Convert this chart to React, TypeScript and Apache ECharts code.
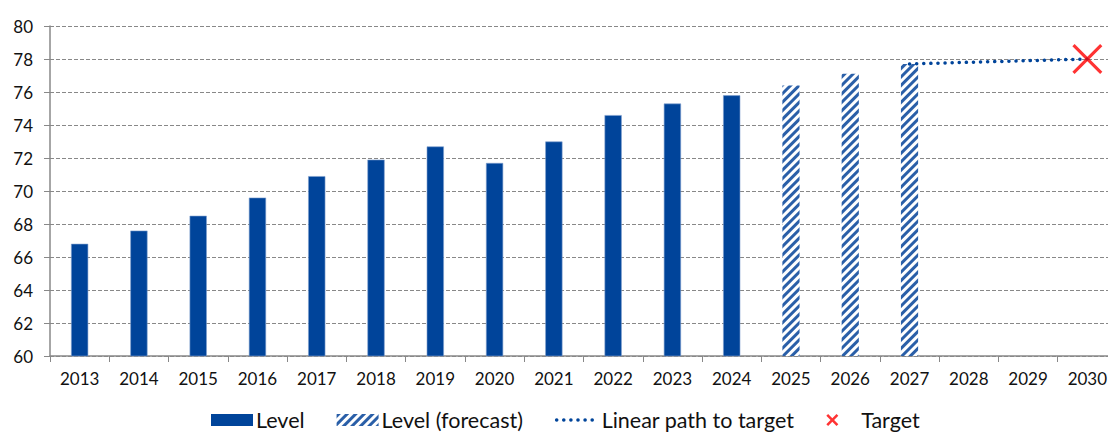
import React, { useEffect, useRef } from "react";
import * as echarts from "echarts";

const years = ["2013","2014","2015","2016","2017","2018","2019","2020","2021","2022","2023","2024","2025","2026","2027","2028","2029","2030"];
const level = [66.8, 67.6, 68.5, 69.6, 70.9, 71.9, 72.7, 71.7, 73.0, 74.6, 75.3, 75.8, null, null, null, null, null, null];
const forecast = [null, null, null, null, null, null, null, null, null, null, null, null, 76.4, 77.1, 77.7, null, null, null];
const path = [null, null, null, null, null, null, null, null, null, null, null, null, null, null, 77.7, null, null, 78.0];
const target = [null, null, null, null, null, null, null, null, null, null, null, null, null, null, null, null, null, 78.0];

const BLUE = "#00449a";
const X_PATH = "path://M1.5,0 L10,8.5 L18.5,0 L20,1.5 L11.5,10 L20,18.5 L18.5,20 L10,11.5 L1.5,20 L0,18.5 L8.5,10 L0,1.5 Z";
const X_SMALL = "path://M3,0 L10,7 L17,0 L20,3 L13,10 L20,17 L17,20 L10,13 L3,20 L0,17 L7,10 L0,3 Z";

export default function App() {
  const ref = useRef<HTMLDivElement>(null);
  useEffect(() => {
    const chart = echarts.init(ref.current!, null, { renderer: "svg" });
    const font = "Lato, 'Open Sans', sans-serif";
    chart.setOption({
      animation: false,
      textStyle: { fontFamily: font },
      grid: { left: 50, top: 26, height: 330, width: 1067, outerBoundsMode: "none", containLabel: false },
      legend: {
        top: 409,
        left: 211,
        padding: 0,
        itemGap: 32,
        itemWidth: 42,
        itemHeight: 12,
        formatter: (name: string) => (name === "Target" ? " " + name : name),
        textStyle: { fontSize: 21.5, color: "#111", fontFamily: font, padding: [0, 0, 0, -2] },
        data: [
          { name: "Level", icon: "rect", itemStyle: { borderWidth: 0 } },
          { name: "Level (forecast)", icon: "rect" },
          {
            name: "Linear path to target",
            itemStyle: { opacity: 0 },
            lineStyle: { color: BLUE, width: 3.5, type: [0.1, 7], cap: "round" },
          },
          { name: "Target", icon: X_SMALL, itemStyle: { color: "#ff0000" } },
        ],
      },
      xAxis: {
        type: "category",
        data: years,
        boundaryGap: true,
        axisLine: { lineStyle: { color: "#888", width: 1.5 } },
        axisTick: { show: true, length: 6, lineStyle: { color: "#888" } },
        axisLabel: { color: "#111", fontSize: 17, margin: 14, fontFamily: font },
      },
      yAxis: {
        type: "value",
        min: 60,
        max: 80,
        interval: 2,
        axisLine: { show: true, lineStyle: { color: "#888", width: 1.5 } },
        axisTick: { show: true, length: 6, lineStyle: { color: "#888" } },
        axisLabel: { color: "#111", fontSize: 17, margin: 17, fontFamily: font },
        splitLine: { lineStyle: { color: "#888", type: [4, 2], width: 1 } },
      },
      series: [
        {
          name: "Level",
          type: "bar",
          data: level,
          barWidth: "29%",
          barGap: "-100%",
          itemStyle: { color: BLUE, borderColor: "#7f9fcf", borderWidth: 0.6 },
        },
        {
          name: "Level (forecast)",
          type: "bar",
          data: forecast,
          barWidth: "29%",
          barGap: "-100%",
          itemStyle: {
            color: "#ffffff",
            decal: {
              symbol: "rect",
              color: "#2a5fa8",
              dashArrayX: [1, 0],
              dashArrayY: [2.5, 2.5],
              rotation: -Math.PI / 4,
              symbolSize: 1,
            },
          },
        },
        {
          name: "Linear path to target",
          type: "line",
          data: path,
          connectNulls: true,
          symbol: "none",
          lineStyle: { color: BLUE, width: 3.5, type: [0.1, 7], cap: "round" },
          itemStyle: { color: BLUE },
          z: 3,
        },
        {
          name: "Target",
          type: "scatter",
          data: target,
          symbol: X_PATH,
          symbolSize: 30,
          itemStyle: { color: "#ff0000" },
          z: 4,
        },
      ],
    });
    return () => chart.dispose();
  }, []);
  return <div ref={ref} style={{ width: 1108, height: 433, position: "absolute", left: 0, top: 0 }} />;
}
